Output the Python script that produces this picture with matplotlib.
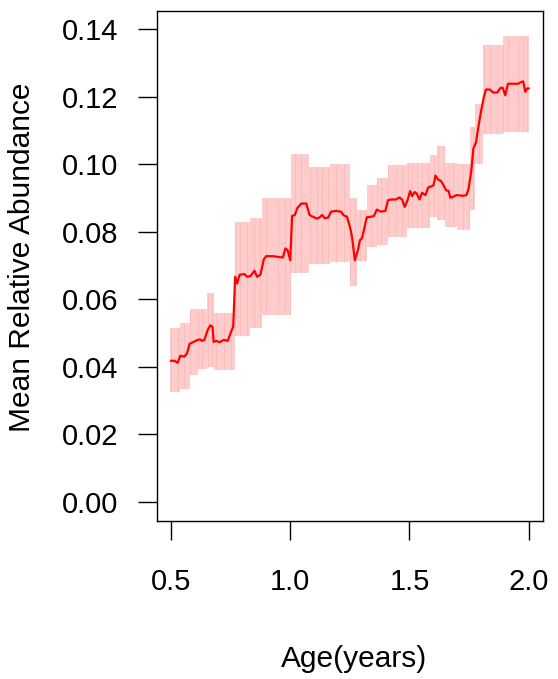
import matplotlib
matplotlib.use("Agg")
import matplotlib.pyplot as plt
import numpy as np

# ---- data ----
age = [0.500, 0.514, 0.528, 0.539, 0.556, 0.567, 0.578, 0.595, 0.612, 0.623,
       0.629, 0.640, 0.654, 0.665, 0.674, 0.679, 0.690, 0.704, 0.721, 0.738,
       0.752, 0.761, 0.769, 0.777, 0.788, 0.808, 0.819, 0.833, 0.850, 0.861,
       0.875, 0.889, 0.899, 0.927, 0.948, 0.969, 0.980, 0.989, 1.000, 1.008,
       1.019, 1.031, 1.047, 1.067, 1.081, 1.095, 1.112, 1.123, 1.134, 1.145,
       1.160, 1.171, 1.193, 1.213, 1.224, 1.238, 1.252, 1.260, 1.271, 1.284,
       1.292, 1.301, 1.312, 1.321, 1.340, 1.351, 1.363, 1.374, 1.382, 1.399,
       1.410, 1.424, 1.444, 1.458, 1.469, 1.480, 1.492, 1.503, 1.511, 1.522,
       1.531, 1.542, 1.553, 1.567, 1.578, 1.592, 1.601, 1.609, 1.620, 1.632,
       1.643, 1.654, 1.664, 1.672, 1.683, 1.697, 1.725, 1.739, 1.748, 1.759,
       1.768, 1.779, 1.790, 1.801, 1.812, 1.821, 1.837, 1.851, 1.868, 1.882,
       1.891, 1.902, 1.913, 1.927, 1.955, 1.969, 1.977, 1.986, 1.994, 2.000]
mean_abundance = [0.0418, 0.0418, 0.0412, 0.0433, 0.0430, 0.0440, 0.0468, 0.0474, 0.0480, 0.0481,
                  0.0477, 0.0480, 0.0509, 0.0523, 0.0519, 0.0474, 0.0477, 0.0473, 0.0480, 0.0477,
                  0.0504, 0.0519, 0.0667, 0.0647, 0.0673, 0.0675, 0.0667, 0.0669, 0.0685, 0.0667,
                  0.0673, 0.0718, 0.0728, 0.0728, 0.0726, 0.0724, 0.0751, 0.0746, 0.0716, 0.0847,
                  0.0850, 0.0872, 0.0884, 0.0884, 0.0850, 0.0845, 0.0839, 0.0843, 0.0850, 0.0840,
                  0.0843, 0.0860, 0.0862, 0.0860, 0.0849, 0.0845, 0.0810, 0.0781, 0.0716, 0.0746,
                  0.0775, 0.0781, 0.0815, 0.0843, 0.0845, 0.0847, 0.0866, 0.0862, 0.0860, 0.0862,
                  0.0894, 0.0896, 0.0896, 0.0902, 0.0896, 0.0874, 0.0894, 0.0921, 0.0906, 0.0918,
                  0.0913, 0.0896, 0.0916, 0.0909, 0.0931, 0.0935, 0.0938, 0.0967, 0.0955, 0.0951,
                  0.0938, 0.0923, 0.0921, 0.0901, 0.0904, 0.0909, 0.0907, 0.0909, 0.0928, 0.0978,
                  0.1047, 0.1065, 0.1116, 0.1160, 0.1200, 0.1222, 0.1222, 0.1213, 0.1213, 0.1227,
                  0.1227, 0.1205, 0.1239, 0.1239, 0.1239, 0.1244, 0.1246, 0.1215, 0.1225, 0.1225]

band_age = [0.497, 0.539, 0.578, 0.612, 0.650, 0.679, 0.767, 0.833, 0.880, 1.005,
            1.080, 1.165, 1.250, 1.280, 1.320, 1.363, 1.410, 1.490, 1.585, 1.615,
            1.648, 1.698, 1.753, 1.775, 1.808, 1.892, 2.000]
band_upper = [0.0516, 0.0531, 0.0570, 0.0570, 0.0620, 0.0560, 0.0830, 0.0840, 0.0900, 0.1032,
              0.0993, 0.1000, 0.0900, 0.0864, 0.0938, 0.0959, 0.0997, 0.1003, 0.1027, 0.1055,
              0.1003, 0.1000, 0.1110, 0.1180, 0.1355, 0.1380]
band_lower = [0.0325, 0.0335, 0.0376, 0.0395, 0.0400, 0.0390, 0.0490, 0.0515, 0.0555, 0.0677,
              0.0705, 0.0712, 0.0640, 0.0715, 0.0755, 0.0762, 0.0785, 0.0812, 0.0845, 0.0835,
              0.0815, 0.0805, 0.0864, 0.1000, 0.1090, 0.1095]

y_ticks = [0.00, 0.02, 0.04, 0.06, 0.08, 0.10, 0.12, 0.14]
x_ticks = [0.5, 1.0, 1.5, 2.0]
x_label = "Age(years)"
y_label = "Mean Relative Abundance"

# ---- plot ----
plt.rcParams['font.family'] = ['Liberation Sans', 'DejaVu Sans']
fig = plt.figure(figsize=(5.58, 6.79), dpi=100)
ax = fig.add_axes([0.2808, 0.2331, 0.6923, 0.7514])

up = band_upper + [band_upper[-1]]
lo = band_lower + [band_lower[-1]]
ax.fill_between(band_age, lo, up, step='post', color='#ffcccc', linewidth=0, zorder=1)

# faint darker stripes inside the band at the observation ages
idx = np.clip(np.searchsorted(band_age, age, side='right') - 1, 0, len(band_upper) - 1)
ax.vlines(age[::2], np.array(band_lower)[idx][::2], np.array(band_upper)[idx][::2],
          color='#f08c8c', linewidth=0.5, alpha=0.35, zorder=2)

ax.plot(age, mean_abundance, color='#ff0000', linewidth=1.6, zorder=3)

ax.set_xlim(0.44, 2.06)
ax.set_ylim(-0.0056, 0.1456)
ax.set_xticks(x_ticks)
ax.set_xticklabels([f"{v:.1f}" for v in x_ticks])
ax.set_yticks(y_ticks)
ax.set_yticklabels([f"{v:.2f}" for v in y_ticks])

for s in ax.spines.values():
    s.set_linewidth(1.0)
    s.set_color('black')
ax.tick_params(axis='both', direction='out', length=13.7, width=1.0, labelsize=21)
ax.tick_params(axis='x', pad=20)
ax.tick_params(axis='y', pad=14)

fig.text(0.6353, 0.0295, x_label, ha='center', va='center', fontsize=21.5)
fig.text(0.0394, 0.6208, y_label, ha='center', va='center', rotation=90, fontsize=21.5)

fig.savefig("out.png", dpi=100)
